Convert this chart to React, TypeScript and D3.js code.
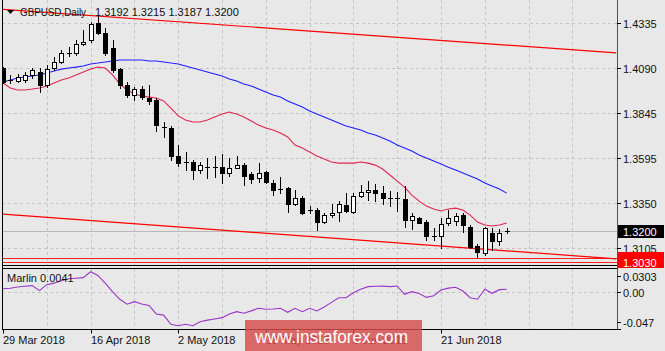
import { useEffect, useRef } from 'react'
import * as d3 from 'd3'

// GBPUSD daily bars, 29 Mar 2018 .. 4 Jul 2018
const DATES = [
  '2018-03-29', '2018-03-30', '2018-04-02', '2018-04-03', '2018-04-04', '2018-04-05', '2018-04-06',
  '2018-04-09', '2018-04-10', '2018-04-11', '2018-04-12', '2018-04-13', '2018-04-16', '2018-04-17',
  '2018-04-18', '2018-04-19', '2018-04-20', '2018-04-23', '2018-04-24', '2018-04-25', '2018-04-26',
  '2018-04-27', '2018-04-30', '2018-05-01', '2018-05-02', '2018-05-03', '2018-05-04', '2018-05-07',
  '2018-05-08', '2018-05-09', '2018-05-10', '2018-05-11', '2018-05-14', '2018-05-15', '2018-05-16',
  '2018-05-17', '2018-05-18', '2018-05-21', '2018-05-22', '2018-05-23', '2018-05-24', '2018-05-25',
  '2018-05-28', '2018-05-29', '2018-05-30', '2018-05-31', '2018-06-01', '2018-06-04', '2018-06-05',
  '2018-06-06', '2018-06-07', '2018-06-08', '2018-06-11', '2018-06-12', '2018-06-13', '2018-06-14',
  '2018-06-15', '2018-06-18', '2018-06-19', '2018-06-20', '2018-06-21', '2018-06-22', '2018-06-25',
  '2018-06-26', '2018-06-27', '2018-06-28', '2018-06-29', '2018-07-02', '2018-07-03', '2018-07-04',
]

const OPEN = [
  1.4089, 1.4023, 1.4018, 1.4023, 1.4051, 1.4067, 1.3996, 1.4089, 1.4122, 1.4171,
  1.4171, 1.4221, 1.4242, 1.4335, 1.428, 1.4198, 1.4083, 1.3996, 1.3941, 1.3974,
  1.3925, 1.3914, 1.3766, 1.3761, 1.3608, 1.3575, 1.3575, 1.3531, 1.3547, 1.355,
  1.3547, 1.3515, 1.3542, 1.3558, 1.3509, 1.3487, 1.352, 1.346, 1.343, 1.3433,
  1.3345, 1.3378, 1.3313, 1.3313, 1.3247, 1.3285, 1.3302, 1.334, 1.3302, 1.3389,
  1.3411, 1.3422, 1.3405, 1.3378, 1.3378, 1.3373, 1.3258, 1.3269, 1.3247, 1.3172,
  1.317, 1.3242, 1.3253, 1.3285, 1.322, 1.3116, 1.3078, 1.3187, 1.3143, 1.3192,
]
const HIGH = [
  1.4094, 1.4051, 1.4056, 1.4067, 1.4089, 1.4089, 1.4105, 1.4149, 1.4187, 1.4204,
  1.4242, 1.4297, 1.4341, 1.4379, 1.4308, 1.4242, 1.4089, 1.4012, 1.3985, 1.3991,
  1.3996, 1.3925, 1.3794, 1.3772, 1.3668, 1.363, 1.3586, 1.3575, 1.3597, 1.3608,
  1.3619, 1.3597, 1.3608, 1.3569, 1.352, 1.3569, 1.3526, 1.3477, 1.3493, 1.3438,
  1.3422, 1.3389, 1.3334, 1.3323, 1.3296, 1.3345, 1.3361, 1.3405, 1.3405, 1.3449,
  1.3471, 1.3455, 1.3444, 1.3416, 1.3411, 1.3444, 1.3296, 1.3274, 1.3258, 1.3214,
  1.3269, 1.3313, 1.3296, 1.3296, 1.3231, 1.3127, 1.322, 1.3214, 1.3209, 1.3215,
]
const LOW = [
  1.4007, 1.4007, 1.4012, 1.4012, 1.4034, 1.3958, 1.3985, 1.4078, 1.4116, 1.4155,
  1.416, 1.4215, 1.4231, 1.4275, 1.416, 1.4067, 1.3979, 1.393, 1.3914, 1.3919,
  1.3892, 1.3744, 1.3712, 1.3586, 1.3553, 1.3531, 1.3482, 1.3515, 1.3487, 1.3493,
  1.346, 1.3498, 1.354, 1.3449, 1.346, 1.3466, 1.346, 1.3394, 1.3405, 1.3302,
  1.334, 1.329, 1.3296, 1.3203, 1.3242, 1.3274, 1.3253, 1.3302, 1.3296, 1.3383,
  1.3367, 1.3361, 1.3345, 1.3334, 1.3307, 1.322, 1.3209, 1.324, 1.3149, 1.3149,
  1.3105, 1.3231, 1.3231, 1.3192, 1.3105, 1.3056, 1.3067, 1.3094, 1.3121, 1.3187,
]
const CLOSE = [
  1.4012, 1.4026, 1.404, 1.4051, 1.4078, 1.3996, 1.4083, 1.4122, 1.4171, 1.4166,
  1.4221, 1.4231, 1.4329, 1.428, 1.4171, 1.4078, 1.3996, 1.3941, 1.3974, 1.393,
  1.3909, 1.3777, 1.3761, 1.3608, 1.3569, 1.357, 1.3531, 1.3558, 1.355, 1.3547,
  1.3515, 1.3542, 1.3558, 1.3498, 1.3482, 1.3515, 1.3466, 1.3422, 1.3427, 1.3345,
  1.3378, 1.3296, 1.331, 1.3247, 1.3285, 1.3296, 1.3345, 1.3307, 1.3389, 1.3411,
  1.3422, 1.3405, 1.3378, 1.3375, 1.3381, 1.3258, 1.328, 1.3242, 1.317, 1.3168,
  1.3236, 1.3269, 1.328, 1.3231, 1.311, 1.3083, 1.3214, 1.3143, 1.3187, 1.32,
]

// moving averages
const MA_FAST = [
  1.4007, 1.398, 1.3969, 1.3969, 1.3974, 1.398, 1.3991, 1.4007, 1.4023, 1.4034,
  1.4051, 1.4067, 1.4083, 1.4094, 1.4089, 1.4051, 1.4002, 1.3969, 1.3947, 1.3936,
  1.393, 1.3925, 1.3909, 1.387, 1.3827, 1.3805, 1.3794, 1.3794, 1.3805, 1.3821,
  1.3838, 1.3848, 1.3838, 1.3821, 1.3799, 1.3777, 1.3761, 1.375, 1.3734, 1.3712,
  1.3668, 1.3652, 1.363, 1.3608, 1.3591, 1.3575, 1.3569, 1.3569, 1.3569, 1.3575,
  1.3569, 1.3558, 1.3537, 1.3504, 1.3471, 1.3438, 1.3394, 1.3361, 1.3334, 1.3318,
  1.3307, 1.3318, 1.3323, 1.3313, 1.3285, 1.3247, 1.3231, 1.3225, 1.3231, 1.3242,
]
const MA_SLOW = [
  1.4012, 1.4023, 1.4034, 1.404, 1.4045, 1.4051, 1.4062, 1.4073, 1.4083, 1.4089,
  1.4094, 1.41, 1.4111, 1.4116, 1.4122, 1.4127, 1.4133, 1.4133, 1.4133, 1.4133,
  1.4127, 1.4127, 1.4122, 1.4116, 1.4111, 1.41, 1.4089, 1.4078, 1.4067, 1.4056,
  1.4045, 1.4029, 1.4018, 1.4002, 1.3991, 1.3974, 1.3958, 1.3941, 1.393, 1.3909,
  1.3892, 1.3876, 1.3854, 1.3838, 1.3821, 1.3805, 1.3788, 1.3772, 1.3761, 1.375,
  1.3734, 1.3723, 1.3706, 1.369, 1.3668, 1.3652, 1.3635, 1.3613, 1.3597, 1.358,
  1.3564, 1.3547, 1.3531, 1.3515, 1.3498, 1.3482, 1.346, 1.3444, 1.3427, 1.3405,
]
const MARLIN = [
  0.0046, 0.0053, 0.007, 0.008, 0.0087, 0.0022, 0.01, 0.012, 0.015, 0.0176,
  0.0183, 0.0191, 0.0268, 0.022, 0.012, 0.001, -0.009, -0.0154, -0.0121, -0.015,
  -0.017, -0.028, -0.0295, -0.0414, -0.0432, -0.0414, -0.0432, -0.038, -0.036, -0.0345,
  -0.0328, -0.028, -0.025, -0.0271, -0.024, -0.0206, -0.0219, -0.0215, -0.0206, -0.0258,
  -0.0206, -0.025, -0.0206, -0.0241, -0.019, -0.013, -0.0069, -0.0069, -0.0005, 0.004,
  0.0074, 0.008, 0.0083, 0.0075, 0.0083, -0.0025, 0.0009, -0.0015, -0.0065, -0.0043,
  0.003, 0.0055, 0.0066, 0.0018, -0.0069, -0.0089, 0.004, -0.0012, 0.0035, 0.0041,
]

const PRICE_TICKS = [1.4335, 1.409, 1.3845, 1.3595, 1.335, 1.3105]
const MARLIN_TICKS = [0.0303, 0, -0.047]
const DATE_TICKS = ['2018-03-29', '2018-04-16', '2018-05-02', '2018-05-18', '2018-06-05', '2018-06-21']

// trend lines as [bar index, price]
const TREND_TOP = [[0, 1.441], [84, 1.4172]]
const TREND_BOTTOM = [[0, 1.329], [84, 1.3046]]
const LEVELS = [1.305, 1.303]
const LAST_PRICE = 1.32

const FONT = "'Liberation Sans', Arial, sans-serif"
const fmtDate = d3.timeFormat('%-d %b %Y')
const parseDate = d3.timeParse('%Y-%m-%d')

export default function App() {
  const svgRef = useRef<SVGSVGElement>(null)

  useEffect(() => {
    const svg = d3.select(svgRef.current)
    svg.selectAll('*').remove()

    const L = 2, R = 617
    const mainBottom = 265.5, subTop = 268.5, subBottom = 329.5

    const x = d3.scaleLinear().domain([0, 60]).range([3, 441])
    const y = d3.scaleLinear().domain([1.3105, 1.4335]).range([248, 23])
    const ym = d3.scaleLinear().domain([-0.047, 0.0303]).range([328.6, 269])
    const px = (i: number) => Math.round(x(i))

    svg.append('rect').attr('width', 665).attr('height', 351).attr('fill', '#e8e8e8')

    const defs = svg.append('defs')
    defs.append('clipPath').attr('id', 'mainClip')
      .append('rect').attr('x', L).attr('y', 0).attr('width', R - L).attr('height', mainBottom)
    defs.append('clipPath').attr('id', 'subClip')
      .append('rect').attr('x', L).attr('y', subTop).attr('width', R - L).attr('height', subBottom - subTop)

    const grid = '#c4c4c4'
    // vertical grid, both panes
    d3.range(6, 84, 6).forEach((i) => {
      ;[[0, mainBottom], [subTop, subBottom]].forEach(([a, b]) => {
        svg.append('line')
          .attr('x1', px(i) + 0.5).attr('x2', px(i) + 0.5).attr('y1', a).attr('y2', b)
          .attr('stroke', grid).attr('stroke-dasharray', '3,3')
      })
    })
    PRICE_TICKS.forEach((t) => {
      const yy = Math.round(y(t)) + 0.5
      svg.append('line').attr('x1', L).attr('x2', R).attr('y1', yy).attr('y2', yy)
        .attr('stroke', grid).attr('stroke-dasharray', '3,3')
    })
    svg.append('line').attr('x1', L).attr('x2', R)
      .attr('y1', Math.round(ym(0)) + 0.5).attr('y2', Math.round(ym(0)) + 0.5)
      .attr('stroke', grid).attr('stroke-dasharray', '3,3')

    const main = svg.append('g').attr('clip-path', 'url(#mainClip)')

    // current price line
    main.append('line').attr('x1', L).attr('x2', R)
      .attr('y1', Math.round(y(LAST_PRICE)) + 0.5).attr('y2', Math.round(y(LAST_PRICE)) + 0.5)
      .attr('stroke', '#b8b8b8')

    // horizontal levels
    LEVELS.forEach((v) => {
      main.append('line').attr('x1', L).attr('x2', R)
        .attr('y1', Math.round(y(v)) + 0.5).attr('y2', Math.round(y(v)) + 0.5)
        .attr('stroke', '#ff2020')
    })

    // trend lines
    const trend = d3.line<number[]>().x((d) => x(d[0])).y((d) => y(d[1]))
    ;[TREND_TOP, TREND_BOTTOM].forEach((t) => {
      main.append('path').attr('d', trend(t)).attr('fill', 'none')
        .attr('stroke', '#ff0000').attr('stroke-width', 1.2)
    })

    // moving averages
    const ma = d3.line<number>().x((d, i) => x(i)).y((d) => y(d))
    main.append('path').attr('d', ma(MA_SLOW)).attr('fill', 'none')
      .attr('stroke', '#1f1fff').attr('stroke-width', 1.1)
    main.append('path').attr('d', ma(MA_FAST)).attr('fill', 'none')
      .attr('stroke', '#e0264f').attr('stroke-width', 1.1)

    // candles
    const cg = main.append('g').attr('shape-rendering', 'crispEdges')
    DATES.forEach((_, i) => {
      const cx = px(i)
      const o = OPEN[i], c = CLOSE[i]
      cg.append('line')
        .attr('x1', cx + 0.5).attr('x2', cx + 0.5)
        .attr('y1', Math.round(y(HIGH[i]))).attr('y2', Math.round(y(LOW[i])) + 1)
        .attr('stroke', '#000')
      const top = Math.round(y(Math.max(o, c)))
      const bot = Math.round(y(Math.min(o, c)))
      if (bot - top < 2) {
        cg.append('rect').attr('x', cx - 2).attr('y', top).attr('width', 5).attr('height', 1).attr('fill', '#000')
      } else if (c > o) {
        cg.append('rect').attr('x', cx - 1.5).attr('y', top + 0.5).attr('width', 4).attr('height', bot - top)
          .attr('fill', '#fff').attr('stroke', '#000')
      } else {
        cg.append('rect').attr('x', cx - 2).attr('y', top).attr('width', 5).attr('height', bot - top + 1)
          .attr('fill', '#000')
      }
    })

    // Marlin pane
    const sub = svg.append('g').attr('clip-path', 'url(#subClip)')
    const ml = d3.line<number>().x((d, i) => x(i)).y((d) => ym(d))
    sub.append('path').attr('d', ml(MARLIN)).attr('fill', 'none')
      .attr('stroke', '#9a35c8').attr('stroke-width', 1.1)

    // frames
    const frame = (x1: number, y1: number, x2: number, y2: number, col = '#000') =>
      svg.append('line').attr('x1', x1).attr('y1', y1).attr('x2', x2).attr('y2', y2).attr('stroke', col)
    frame(L + 0.5, 0, L + 0.5, subBottom)
    frame(R + 0.5, 0, R + 0.5, subBottom, '#505050')
    frame(L, mainBottom, R, mainBottom)
    frame(L, subTop, R, subTop)
    frame(L, subBottom, R + 4, subBottom)

    const text = (tx: number, ty: number, s: string, col = '#111', size = 11) =>
      svg.append('text').attr('x', tx).attr('y', ty).attr('fill', col)
        .attr('font-family', FONT).attr('font-size', size).text(s)

    // price axis
    PRICE_TICKS.forEach((t) => {
      const yy = Math.round(y(t)) + 0.5
      frame(R, yy, R + 4, yy)
      text(623, yy + 4, t.toFixed(4))
    })
    const yLast = Math.round(y(LAST_PRICE)) + 0.5
    svg.append('rect').attr('x', R + 1).attr('y', yLast - 6.5).attr('width', 46).attr('height', 13).attr('fill', '#000')
    text(623, yLast + 4, LAST_PRICE.toFixed(4), '#fff')
    const yLvl = Math.round(y(LEVELS[1])) + 0.5
    svg.append('rect').attr('x', R + 1).attr('y', 252).attr('width', 46).attr('height', 16).attr('fill', '#ff0000')
    text(623, yLvl + 4, LEVELS[1].toFixed(4), '#fff')

    // Marlin axis
    MARLIN_TICKS.forEach((t) => {
      const yy = Math.round(Math.max(276, Math.min(322, ym(t)))) + 0.5
      frame(R, yy, R + 4, yy)
      text(623, yy + 4, t === 0 ? '0.00' : String(t))
    })

    // date axis
    DATE_TICKS.forEach((d) => {
      const i = DATES.indexOf(d)
      const xx = px(i) + 0.5
      frame(xx, subBottom, xx, subBottom + 4)
      text(xx - 0.5, 344, fmtDate(parseDate(d) as Date))
    })

    // titles
    svg.append('path').attr('d', 'M7,10 L14,10 L10.5,14 Z').attr('fill', '#000')
    text(20, 16, 'GBPUSD,Daily').attr('textLength', 66).attr('lengthAdjust', 'spacingAndGlyphs')
    text(95, 16, `${OPEN[69].toFixed(4)} ${HIGH[69].toFixed(4)} ${LOW[69].toFixed(4)} ${CLOSE[69].toFixed(4)}`)
    text(7, 282, `Marlin ${MARLIN[69].toFixed(4)}`)

    // watermark
    svg.append('rect').attr('x', 245).attr('y', 320).attr('width', 177).attr('height', 31)
      .attr('fill', '#d84c4c').attr('opacity', 0.82)
    svg.append('text').attr('x', 255).attr('y', 343).attr('fill', '#fff')
      .attr('font-family', FONT).attr('font-size', 19)
      .attr('textLength', 153).attr('lengthAdjust', 'spacingAndGlyphs')
      .text('www.instaforex.com')
  }, [])

  return (
    <svg ref={svgRef} width={665} height={351}
      style={{ position: 'absolute', left: 0, top: 0, display: 'block' }} />
  )
}
